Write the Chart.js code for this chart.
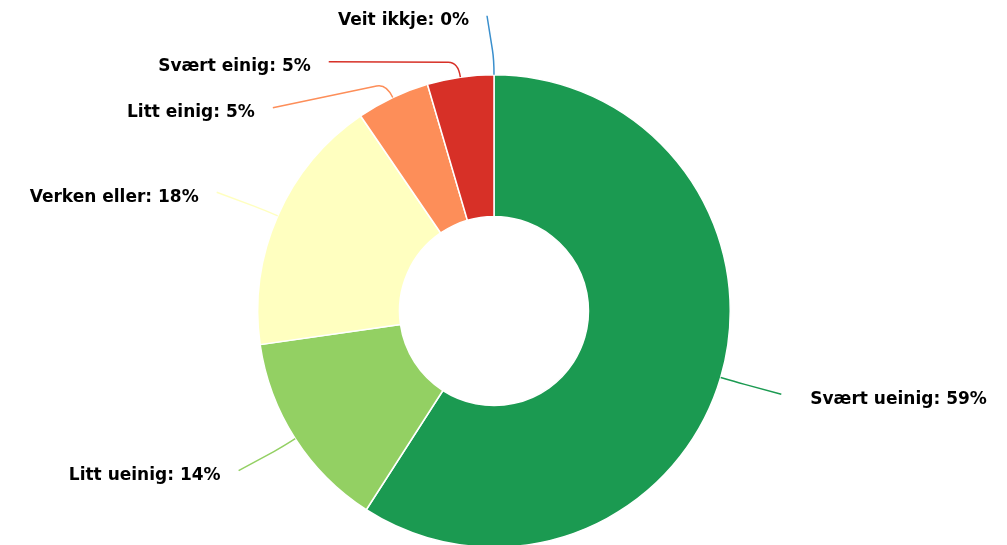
<!DOCTYPE html>
<html>
<head>
<meta charset="utf-8">
<script src="https://cdn.jsdelivr.net/npm/chart.js@4"></script>
<style>
  html, body { margin: 0; padding: 0; background: #fff; overflow: hidden; }
  #wrap { width: 1007px; height: 545px; overflow: hidden; }
</style>
</head>
<body>
<div id="wrap"><canvas id="chart" width="1007" height="560"></canvas></div>
<script>
const labels = ['Svært ueinig', 'Litt ueinig', 'Verken eller', 'Litt einig', 'Svært einig', 'Veit ikkje'];
const counts = [130, 30, 39, 11, 10, 0];
const colors = ['#1b9a51', '#93d063', '#ffffc0', '#fd8e59', '#d73027', '#3a8fcd'];

const total = counts.reduce((a, b) => a + b, 0);
const pct = counts.map(v => Math.round(v / total * 100));

// highcharts-like outside labels with connectors
const outsideLabels = {
  id: 'outsideLabels',
  afterDatasetsDraw(chart) {
    const ctx = chart.ctx;
    const arcs = chart.getDatasetMeta(0).data;
    const dist = 59, spacing = 46, topY = 15;
    let items = arcs.map((arc, i) => {
      const mid = (arc.startAngle + arc.endAngle) / 2;
      const R = arc.outerRadius;
      const cx = arc.x, cy = arc.y;
      // clockwise angle from top, 0..2pi
      let t = mid + Math.PI / 2;
      const left = t >= Math.PI - 1e-6;
      return {
        i, cx, cy, R, mid, left,
        ax: cx + Math.cos(mid) * R,
        ay: cy + Math.sin(mid) * R,
        bx: cx + Math.cos(mid) * (R + 15),
        by: cy + Math.sin(mid) * (R + 15),
        y: cy + Math.sin(mid) * (R + dist),
      };
    });
    // push apart labels on each side
    [true, false].forEach(side => {
      const group = items.filter(o => o.left == side).sort((a, b) => a.y - b.y);
      let prev = -Infinity;
      group.forEach(o => {
        o.y = Math.max(o.y, topY, prev + spacing);
        prev = o.y;
      });
    });
    ctx.save();
    ctx.font = 'bold 17px "DejaVu Sans", sans-serif';
    ctx.textBaseline = 'middle';
    items.forEach(o => {
      const d = o.R + dist;
      const dy = o.y - o.cy;
      const dx = Math.sqrt(Math.max(d * d - dy * dy, 0));
      const lx = o.left ? o.cx - dx - 7 : o.cx + dx + 4;
      // connector
      const vx = lx - o.bx, vy = o.y - o.by;
      const len = Math.hypot(vx, vy) || 1;
      const k = Math.min(10, len / 2);
      ctx.beginPath();
      ctx.strokeStyle = colors[o.i];
      ctx.lineWidth = 1.5;
      ctx.moveTo(lx, o.y);
      ctx.lineTo(o.bx + vx / len * k, o.by + vy / len * k);
      ctx.quadraticCurveTo(o.bx, o.by, o.ax, o.ay);
      ctx.stroke();
      // text
      ctx.fillStyle = '#000';
      const txt = labels[o.i] + ': ' + pct[o.i] + '%';
      if (o.left) {
        ctx.textAlign = 'right';
        ctx.fillText(txt, lx - 18, o.y + 5);
      } else {
        ctx.textAlign = 'left';
        ctx.fillText(txt, lx + 29, o.y + 5);
      }
    });
    ctx.restore();
  }
};

new Chart(document.getElementById('chart'), {
  type: 'doughnut',
  data: {
    labels: labels,
    datasets: [{
      data: counts,
      backgroundColor: colors,
      borderColor: '#ffffff',
      borderWidth: 1.5,
    }]
  },
  options: {
    responsive: false,
    animation: false,
    cutout: '40%',
    layout: { padding: { top: 74, bottom: 12, left: 0, right: 19 } },
    plugins: {
      legend: { display: false },
      tooltip: { enabled: false },
    }
  },
  plugins: [outsideLabels]
});
</script>
</body>
</html>
